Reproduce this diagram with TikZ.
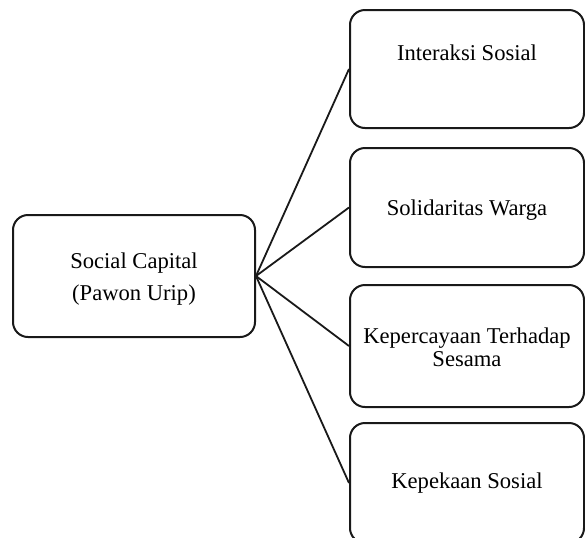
\documentclass[tikz,border=0pt]{standalone}
\usepackage{fontspec}
\setmainfont{Liberation Serif}
\begin{document}
\begin{tikzpicture}[x=0.5pt,y=-0.5pt,
  box/.style={draw=black!90,line width=1pt,rounded corners=7.5pt,inner sep=0pt},
  lbl/.style={font=\fontsize{11.3}{11.5}\selectfont,align=center,inner sep=0pt},
  link/.style={draw=black!90,line width=0.9pt}]
\useasboundingbox (0,0) rectangle (585,537);
\node[box,minimum width=121pt,minimum height=61pt] (src) at (134,276) {};
\node[lbl,font=\fontsize{11.3}{16}\selectfont] (srct) at (134,279) {Social Capital\\(Pawon Urip)};
\node[box,minimum width=117pt,minimum height=59pt] (b1) at (467,69) {};
\node[box,minimum width=117pt,minimum height=59.5pt] (b2) at (467,207.5) {};
\node[box,minimum width=117pt,minimum height=61pt] (b3) at (467,346) {};
\node[box,minimum width=117pt,minimum height=60pt] (b4) at (467,483) {};
\node[lbl] (t1) at (467,53) {Interaksi Sosial};
\node[lbl] (t2) at (467,210) {Solidaritas Warga};
\node[lbl] (t3) at (467,347) {Kepercayaan Terhadap\\Sesama};
\node[lbl] (t4) at (467,483) {Kepekaan Sosial};
\foreach \b in {b1,b2,b3,b4} \draw[link] (src.east) -- (\b.west);
\end{tikzpicture}
\end{document}
